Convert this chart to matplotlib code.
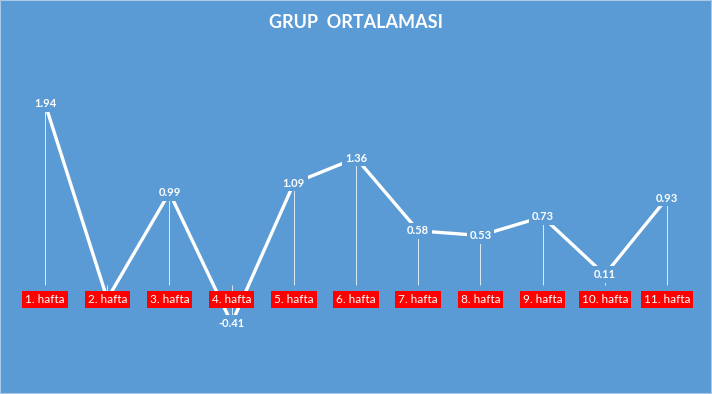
import matplotlib.pyplot as plt
import numpy as np

weeks = ["1. hafta", "2. hafta", "3. hafta", "4. hafta", "5. hafta", "6. hafta",
         "7. hafta", "8. hafta", "9. hafta", "10. hafta", "11. hafta"]
group_avg = [1.94, -0.15, 0.99, -0.41, 1.09, 1.36, 0.58, 0.53, 0.73, 0.11, 0.93]

bg = "#5b9bd5"
plt.rcParams['font.family'] = ['Lato', 'DejaVu Sans']

fig = plt.figure(figsize=(7.12, 3.94), dpi=100, facecolor=bg)
ax = fig.add_axes([0.0197, 0.1345, 0.9607, 0.6635])
ax.set_facecolor(bg)

x = np.arange(len(weeks))
ax.plot(x, group_avg, color="white", lw=2.4, zorder=2, solid_capstyle="butt")
ax.vlines(x, 0, group_avg, color="white", lw=0.7, alpha=0.8, zorder=1)

for xi, v in zip(x, group_avg):
    ax.text(xi, v, f"{v:.2f}", ha="center", va="center", color="white",
            fontsize=8, fontweight="bold", zorder=3,
            bbox=dict(boxstyle="square,pad=0.25", fc=bg, ec="none"))

for xi, w in zip(x, weeks):
    ax.text(xi, -0.16, w, ha="center", va="center", color="white", fontsize=8.5,
            zorder=4, bbox=dict(boxstyle="square,pad=0.25", fc="#ff0000", ec="none"))

ax.set_xlim(-0.5, len(weeks) - 0.5)
ax.set_ylim(-0.6, 2.2)
ax.axis("off")

fig.text(0.5, 0.943, "GRUP  ORTALAMASI", ha="center", va="center", color="white",
         fontsize=13, fontweight="bold")

fig.patches.append(plt.Rectangle((0, 0), 1, 1, transform=fig.transFigure,
                                 fill=False, ec="#a9c8e8", lw=1.5))

fig.savefig("out.png", dpi=100, facecolor=bg)
